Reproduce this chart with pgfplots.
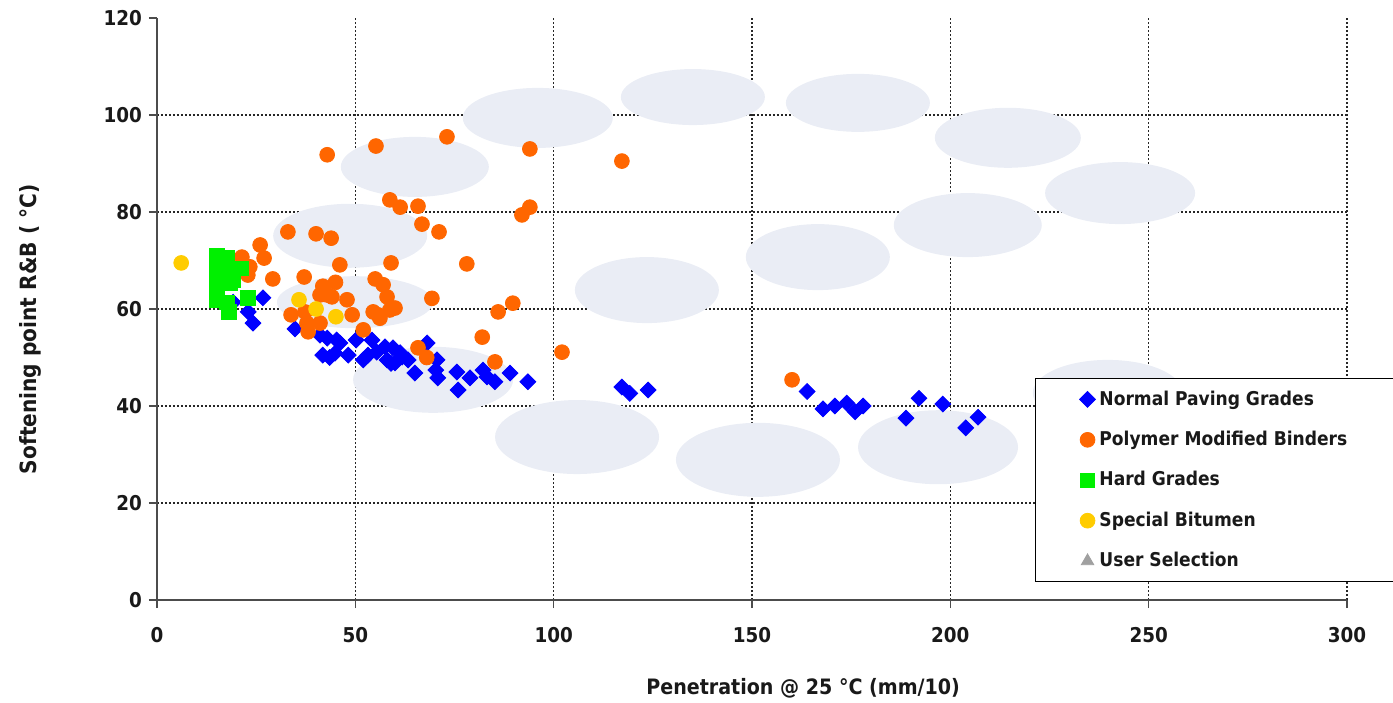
\documentclass[border=0pt]{standalone}
\usepackage{fontspec}
\setmainfont{DejaVu Sans Condensed}
\usepackage{pgfplots}
\pgfplotsset{compat=1.18}
\definecolor{npg}{RGB}{0,0,255}
\definecolor{pmb}{RGB}{255,102,0}
\definecolor{hg}{RGB}{0,240,0}
\definecolor{sb}{RGB}{255,204,0}
\definecolor{us}{RGB}{160,160,160}
\definecolor{ell}{RGB}{234,237,245}
\definecolor{txt}{RGB}{25,25,25}
\begin{document}
\begin{tikzpicture}
\begin{axis}[
 scale only axis, width=595pt, height=291pt,
 xmin=0, xmax=300, ymin=0, ymax=120,
 axis x line=bottom, axis y line=left,
 axis line style={-, line width=1pt, black!70},
 xtick={0,50,...,300}, ytick={0,20,...,100},
 extra y ticks={120}, extra y tick style={grid=none},
 tick align=outside, major tick length=4pt,
 tick style={black!70, line width=0.6pt},
 grid=major,
 major grid style={dash pattern=on 1.2pt off 0.8pt, line width=0.6pt, black!85},
 ticklabel style={font=\bfseries\fontsize{10.2}{12}\selectfont, text=txt},
 /pgf/number format/assume math mode=true,
 xticklabel style={yshift=-6pt},
 xlabel={Penetration @ 25 °C (mm/10)},
 ylabel={Softening point R\&B ( °C)},
 label style={font=\bfseries\fontsize{10.6}{12}\selectfont, text=txt},
 xlabel style={at={(axis description cs:0.543,-0.151)}, anchor=center},
 ylabel style={at={(axis description cs:-0.106,0.465)}, anchor=center, rotate=0, font=\bfseries\fontsize{11.2}{12}\selectfont},
 legend style={at={(0.738,0.381)}, anchor=north west, draw=black, fill=white,
   inner xsep=22pt, inner ysep=4pt, row sep=7.5pt, column sep=0pt,
   font=\bfseries\fontsize{9.5}{11}\selectfont, text=txt,
   column 2/.style={nodes={inner sep=0pt, text height=7pt, text depth=2pt, text width=126pt}},
   cells={anchor=west}},
 legend image code/.code={\draw[#1] plot coordinates {(0pt,0pt)};},
 clip=false,
]
% decorative background ellipses
\fill[ell] (axis cs:65.0,89.3) ellipse [x radius=37pt, y radius=15pt];
\fill[ell] (axis cs:96.0,99.4) ellipse [x radius=37.5pt, y radius=15pt];
\fill[ell] (axis cs:135.1,103.7) ellipse [x radius=36pt, y radius=14pt];
\fill[ell] (axis cs:176.7,102.5) ellipse [x radius=36pt, y radius=14.5pt];
\fill[ell] (axis cs:214.5,95.3) ellipse [x radius=36.5pt, y radius=15pt];
\fill[ell] (axis cs:242.8,83.9) ellipse [x radius=37.5pt, y radius=15.5pt];
\fill[ell] (axis cs:204.4,77.3) ellipse [x radius=37pt, y radius=16pt];
\fill[ell] (axis cs:166.6,70.7) ellipse [x radius=36pt, y radius=16.5pt];
\fill[ell] (axis cs:123.5,63.9) ellipse [x radius=36pt, y radius=16.5pt];
\fill[ell] (axis cs:48.7,75.1) ellipse [x radius=38.5pt, y radius=16pt];
\fill[ell] (axis cs:49.9,61.4) ellipse [x radius=39pt, y radius=13pt];
\fill[ell] (axis cs:69.6,45.4) ellipse [x radius=40pt, y radius=16.5pt];
\fill[ell] (axis cs:105.9,33.6) ellipse [x radius=41pt, y radius=18.5pt];
\fill[ell] (axis cs:151.5,28.9) ellipse [x radius=41pt, y radius=18.5pt];
\fill[ell] (axis cs:196.9,31.5) ellipse [x radius=40pt, y radius=18.5pt];
\fill[ell] (axis cs:239.7,42.7) ellipse [x radius=37.5pt, y radius=16.5pt];

\addplot[only marks, mark=square*, mark size=2.8pt, color=npg, mark options={rotate=45, fill=npg, draw=npg}] coordinates {
(19.2,61.4) (23.0,59.4) (24.2,57.1) (26.7,62.3) (34.8,55.9) (41.1,54.6) (42.9,54.0)
(41.8,50.5) (43.5,50.0) (44.9,50.9) (45.3,53.6) (46.1,53.0) (48.2,50.5) (50.2,53.6)
(52.0,49.5) (53.2,50.5) (54.2,53.6) (55.4,51.1) (57.5,52.2) (58.0,49.5) (59.0,48.8)
(59.5,52.0) (60.0,48.9) (61.3,51.0) (61.8,50.1) (63.3,49.5) (65.0,46.8) (68.1,53.0)
(70.3,47.4) (70.6,49.5) (70.8,45.8) (75.6,47.0) (75.9,43.3) (78.9,45.8) (82.2,47.4)
(83.2,46.0) (85.2,45.0) (89.0,46.8) (93.5,45.0)
(117.2,43.9) (119.2,42.6) (123.8,43.3) (163.9,43.0) (167.9,39.4) (170.9,40.0)
(173.9,40.6) (176.0,38.8) (178.0,40.0) (188.8,37.5) (192.1,41.6) (198.1,40.4)
(203.9,35.5) (207.0,37.7)
};
\addlegendentry{Normal Paving Grades}

\addplot[only marks, mark=*, mark size=3.7pt, color=pmb, mark options={fill=pmb, draw=pmb}] coordinates {
(21.4,70.7) (22.9,67.0) (23.4,68.7) (26.0,73.2) (27.0,70.5) (29.2,66.2) (33.0,75.9)
(33.8,58.8) (37.1,66.6) (37.3,59.4) (37.8,57.1) (38.1,55.3) (40.1,75.5) (41.1,62.9)
(41.1,57.1) (41.8,64.7) (42.9,91.8) (42.9,62.9) (43.9,74.6) (44.1,62.5) (45.0,65.5)
(46.1,69.1) (47.9,61.9) (49.2,58.8) (52.0,55.7) (54.5,59.4) (55.0,66.2) (55.2,93.6)
(55.7,58.8) (56.2,58.1) (57.0,65.0) (58.0,62.5) (58.7,59.8) (58.7,82.5) (59.0,69.5)
(60.0,60.2) (61.3,81.0) (65.8,81.2) (65.8,52.0) (66.8,77.5) (68.0,50.0) (69.3,62.2)
(71.1,75.9) (73.1,95.5) (78.1,69.3) (82.0,54.2) (85.2,49.1) (86.0,59.4) (89.7,61.2)
(92.0,79.4) (94.0,81.0) (94.0,93.0) (102.1,51.1) (117.2,90.5) (160.1,45.4)
};
\addlegendentry{Polymer Modified Binders}

\addplot[only marks, mark=square*, mark size=3.6pt, color=hg, mark options={fill=hg, draw=hg}] coordinates {
(15.1,71.0) (17.6,70.5) (15.1,69.0) (18.0,68.0) (21.2,68.4) (15.1,66.4) (19.2,66.0)
(15.1,65.0) (18.4,65.3) (15.1,61.9) (17.6,61.4) (18.1,59.4) (22.9,62.3)
};
\addlegendentry{Hard Grades}

\addplot[only marks, mark=*, mark size=3.7pt, color=sb, mark options={fill=sb, draw=sb}] coordinates {
(6.1,69.5) (35.8,61.9) (40.1,60.0) (45.1,58.4)
};
\addlegendentry{Special Bitumen}

\addlegendimage{only marks, mark=triangle*, mark size=3.6pt, color=us, mark options={fill=us, draw=us}}
\addlegendentry{User Selection}
\end{axis}
\pgfresetboundingbox
\useasboundingbox (-78.5pt,-51pt) rectangle (618pt,300pt);
\end{tikzpicture}
\end{document}
